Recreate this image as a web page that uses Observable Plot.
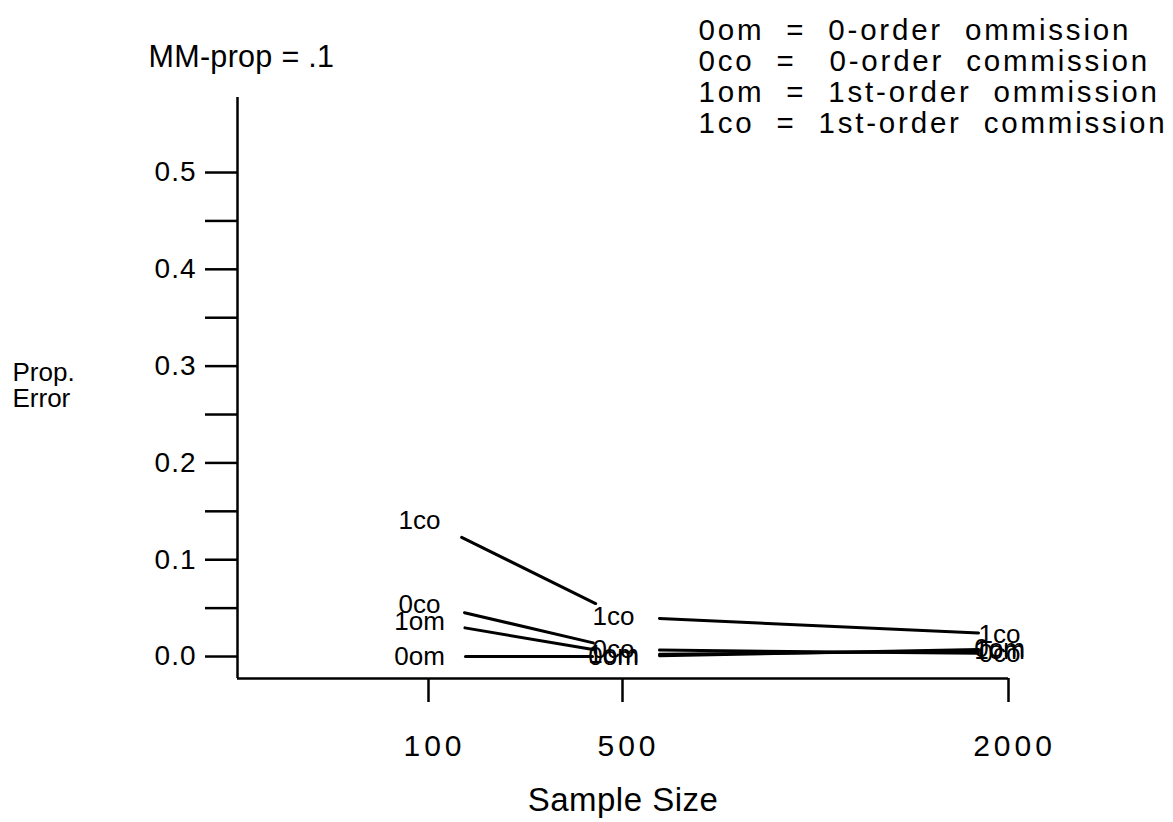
<!DOCTYPE html>
<html><head><meta charset="utf-8">
<script src="https://cdn.jsdelivr.net/npm/d3@7"></script>
<script src="https://cdn.jsdelivr.net/npm/@observablehq/plot@0.6"></script>
<style>
html,body{margin:0;padding:0;background:#fff;}
#chart svg text{white-space:pre;}
</style></head><body><div id="chart"></div>
<script>
// ---- data ----
const sampleSizes = [100, 500, 2000];
const seriesNames = ["0om", "0co", "1om", "1co"];
const err0om = [0.000, 0.000, 0.008];
const err0co = [0.054, 0.007, 0.003];
const err1om = [0.036, 0.002, 0.006];
const err1co = [0.140, 0.041, 0.023];
const yTickValues = [0, 0.05, 0.1, 0.15, 0.2, 0.25, 0.3, 0.35, 0.4, 0.45, 0.5];
const yTickLabels = ["0.0", "", "0.1", "", "0.2", "", "0.3", "", "0.4", "", "0.5"];
const xTickLabels = ["100", "500", "2000"];
const titleText = "MM-prop = .1";
const legendLines = [
  "0om  =  0-order  ommission",
  "0co  =   0-order  commission",
  "1om  =  1st-order  ommission",
  "1co  =  1st-order  commission"
];
const yLabelText = "Prop.\nError";
const xLabelText = "Sample Size";

// ---- derived tables ----
const seriesValues = [err0om, err0co, err1om, err1co];
const points = seriesNames.flatMap((s, i) =>
  sampleSizes.map((n, j) => ({series: s, n, v: seriesValues[i][j]})));
const segments = seriesNames.flatMap((s, i) =>
  sampleSizes.slice(1).map((n, j) => ({
    series: s, n1: sampleSizes[j], v1: seriesValues[i][j], n2: n, v2: seriesValues[i][j + 1]
  })));
const yLabelMap = new Map(yTickValues.map((v, i) => [v, yTickLabels[i]]));
const xLabelMap = new Map(sampleSizes.map((v, i) => [v, xTickLabels[i]]));

const font = "'Liberation Sans', Arial, Helvetica, sans-serif";
const yDomain = [-0.0227, 0.5775];

const chart = Plot.plot({
  width: 1173,
  height: 822,
  marginLeft: 237,
  marginRight: 165,
  marginTop: 97,
  marginBottom: 144,
  style: {fontFamily: font, background: "white", color: "black", overflow: "visible"},
  x: {type: "linear", domain: [0, 100, 500, 2000], range: [237, 428, 622, 1008]},
  y: {domain: yDomain},
  marks: [
    Plot.ruleX([0], {stroke: "black", strokeWidth: 2.5}),
    Plot.ruleY([yDomain[0]], {stroke: "black", strokeWidth: 2.5}),
    Plot.axisY({ticks: yTickValues, tickSize: 32, tickPadding: 9,
      tickFormat: d => yLabelMap.get(d), fontSize: 28, strokeWidth: 2.5, label: null}),
    Plot.axisX({ticks: sampleSizes, tickSize: 24, tickPadding: 32,
      tickFormat: d => xLabelMap.get(d), fontSize: 30, strokeWidth: 2.5, label: null}),
    Plot.arrow(segments, {x1: "n1", y1: "v1", x2: "n2", y2: "v2",
      headLength: 0, insetStart: 37, insetEnd: 30, stroke: "black", strokeWidth: 3}),
    Plot.text(points, {x: "n", y: "v", text: "series", fontSize: 26, dx: -9, fill: "black"}),
    Plot.text([titleText], {frameAnchor: "top-left", textAnchor: "start", lineAnchor: "middle",
      dx: -89, dy: -40, fontSize: 30.5, fill: "black"}),
    Plot.text([legendLines.join("\n")], {frameAnchor: "top-left", textAnchor: "start", lineAnchor: "middle",
      dx: 461, dy: -20.5, fontSize: 29.5, lineHeight: 1.05, fill: "black"}),
    Plot.text([yLabelText], {frameAnchor: "left", textAnchor: "start", lineAnchor: "middle",
      dx: -225, dy: -2.5, fontSize: 26, lineHeight: 1.0, fill: "black"}),
    Plot.text([xLabelText], {frameAnchor: "bottom", textAnchor: "middle", lineAnchor: "middle",
      dy: 122, fontSize: 33, fill: "black"})
  ]
});

// letter spacing tweaks to mimic the wide-tracked original type
const svg = d3.select(chart);
svg.selectAll('g[aria-label="y-axis tick label"] text').attr("letter-spacing", "1px");
svg.selectAll('g[aria-label="x-axis tick label"] text').attr("letter-spacing", "4px").attr("dx", 6);
const textGroups = svg.selectAll('g[aria-label="text"]').nodes();
const groupSpacing = ["0px", "0.3px", "2.8px", "0px", "0.5px"];
textGroups.forEach((g, i) => d3.select(g).selectAll("text").attr("letter-spacing", groupSpacing[i] || "0px"));
document.getElementById("chart").appendChild(chart);
</script>
</body></html>
